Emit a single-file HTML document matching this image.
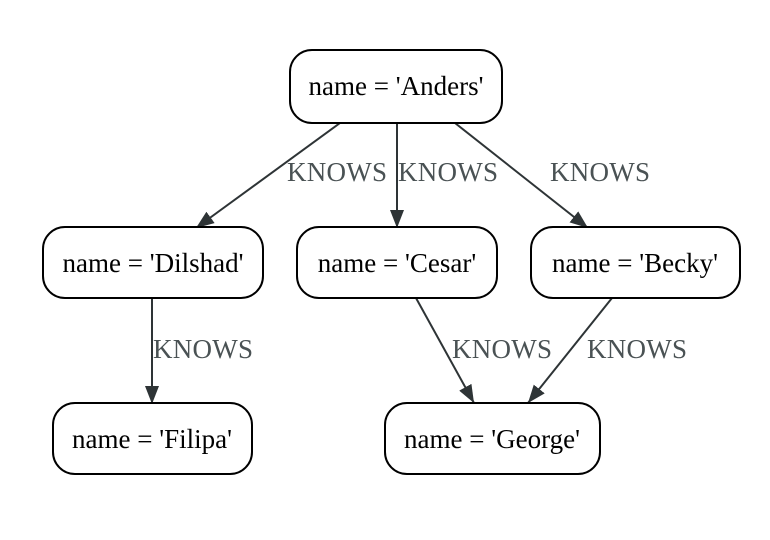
<!DOCTYPE html>
<html><head><style>body{margin:0;background:#fff}</style></head><body>
<svg width="770" height="535" xmlns="http://www.w3.org/2000/svg" font-family="Liberation Serif, serif">
<defs><marker id="a" markerWidth="18" markerHeight="14" refX="18" refY="7" orient="auto" markerUnits="userSpaceOnUse"><path d="M0,0 L18,7 L0,14 Z" fill="#2e3436"/></marker></defs>
<g stroke="#2e3436" stroke-width="2" fill="none" marker-end="url(#a)">
<line x1="340" y1="123" x2="196" y2="228"/>
<line x1="397" y1="123" x2="397" y2="228"/>
<line x1="455" y1="123" x2="588" y2="228"/>
<line x1="152" y1="298" x2="152" y2="404"/>
<line x1="416" y1="298" x2="474" y2="403"/>
<line x1="612" y1="298" x2="528" y2="403"/>
</g>
<g fill="#4a5254" font-size="27">
<text x="287" y="181" textLength="100">KNOWS</text>
<text x="398" y="181" textLength="100">KNOWS</text>
<text x="550" y="181" textLength="100">KNOWS</text>
<text x="153" y="358" textLength="100">KNOWS</text>
<text x="452" y="358" textLength="100">KNOWS</text>
<text x="587" y="358" textLength="100">KNOWS</text>
</g>
<g stroke="#000" stroke-width="2" fill="#fff">
<rect x="290" y="50" width="212" height="73" rx="22"/>
<rect x="43" y="227" width="220" height="71" rx="22"/>
<rect x="297" y="227" width="200" height="71" rx="22"/>
<rect x="531" y="227" width="209" height="71" rx="22"/>
<rect x="53" y="403" width="199" height="71" rx="22"/>
<rect x="385" y="403" width="215" height="71" rx="22"/>
</g>
<g fill="#000" font-size="27" text-anchor="middle">
<text x="396" y="95">name = 'Anders'</text>
<text x="153" y="272">name = 'Dilshad'</text>
<text x="397" y="272">name = 'Cesar'</text>
<text x="635" y="272">name = 'Becky'</text>
<text x="152" y="448">name = 'Filipa'</text>
<text x="492" y="448">name = 'George'</text>
</g>
</svg>
</body></html>
